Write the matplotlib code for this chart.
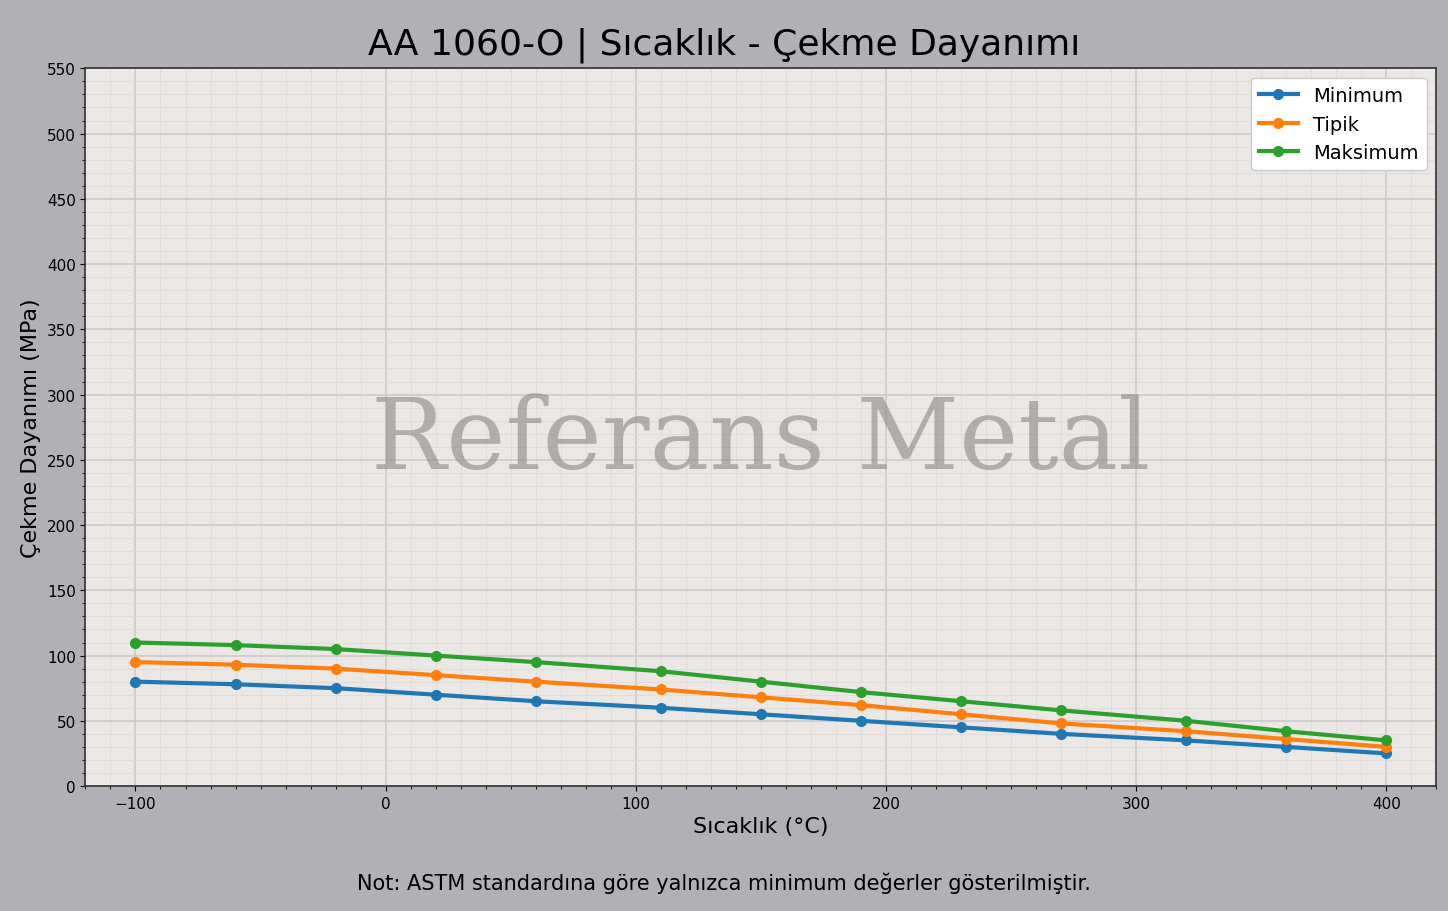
import matplotlib.pyplot as plt
from matplotlib.ticker import MultipleLocator

temps = [-100, -60, -20, 20, 60, 110, 150, 190, 230, 270, 320, 360, 400]
min_vals = [80, 78, 75, 70, 65, 60, 55, 50, 45, 40, 35, 30, 25]
typ_vals = [95, 93, 90, 85, 80, 74, 68, 62, 55, 48, 42, 36, 30]
max_vals = [110, 108, 105, 100, 95, 88, 80, 72, 65, 58, 50, 42, 35]

fig = plt.figure(figsize=(14.48, 9.12), dpi=100, facecolor='#b1b0b5')
ax = fig.add_axes([0.059, 0.137, 0.933, 0.787])
ax.set_facecolor('#ebe7e5')

ax.plot(temps, min_vals, '-o', color='#1f77b4', lw=3, ms=7, label='Minimum')
ax.plot(temps, typ_vals, '-o', color='#ff7f0e', lw=3, ms=7, label='Tipik')
ax.plot(temps, max_vals, '-o', color='#2ca02c', lw=3, ms=7, label='Maksimum')

ax.set_xlim(-120, 420)
ax.set_ylim(0, 550)
ax.yaxis.set_major_locator(MultipleLocator(50))
ax.xaxis.set_minor_locator(MultipleLocator(10))
ax.yaxis.set_minor_locator(MultipleLocator(10))
ax.grid(which='major', color='#cfcaca', lw=1.2)
ax.grid(which='minor', color='#dedad9', lw=0.6)
ax.set_axisbelow(True)
ax.tick_params(labelsize=11)
for s in ax.spines.values():
    s.set_linewidth(1.2)
    s.set_color('#333333')

ax.set_xlabel('Sıcaklık (°C)', fontsize=16)
ax.set_ylabel('Çekme Dayanımı (MPa)', fontsize=16)
fig.suptitle('AA 1060-O | Sıcaklık - Çekme Dayanımı', fontsize=26, y=0.97)
ax.legend(loc='upper right', fontsize=14, framealpha=1)

ax.text(0.5, 0.48, 'Referans Metal', transform=ax.transAxes, ha='center', va='center',
        fontsize=72, family='DejaVu Serif', color='#888888', alpha=0.6)
fig.text(0.5, 0.024, 'Not: ASTM standardına göre yalnızca minimum değerler gösterilmiştir.',
         ha='center', fontsize=15)

fig.savefig('out.png', dpi=100, facecolor=fig.get_facecolor())
